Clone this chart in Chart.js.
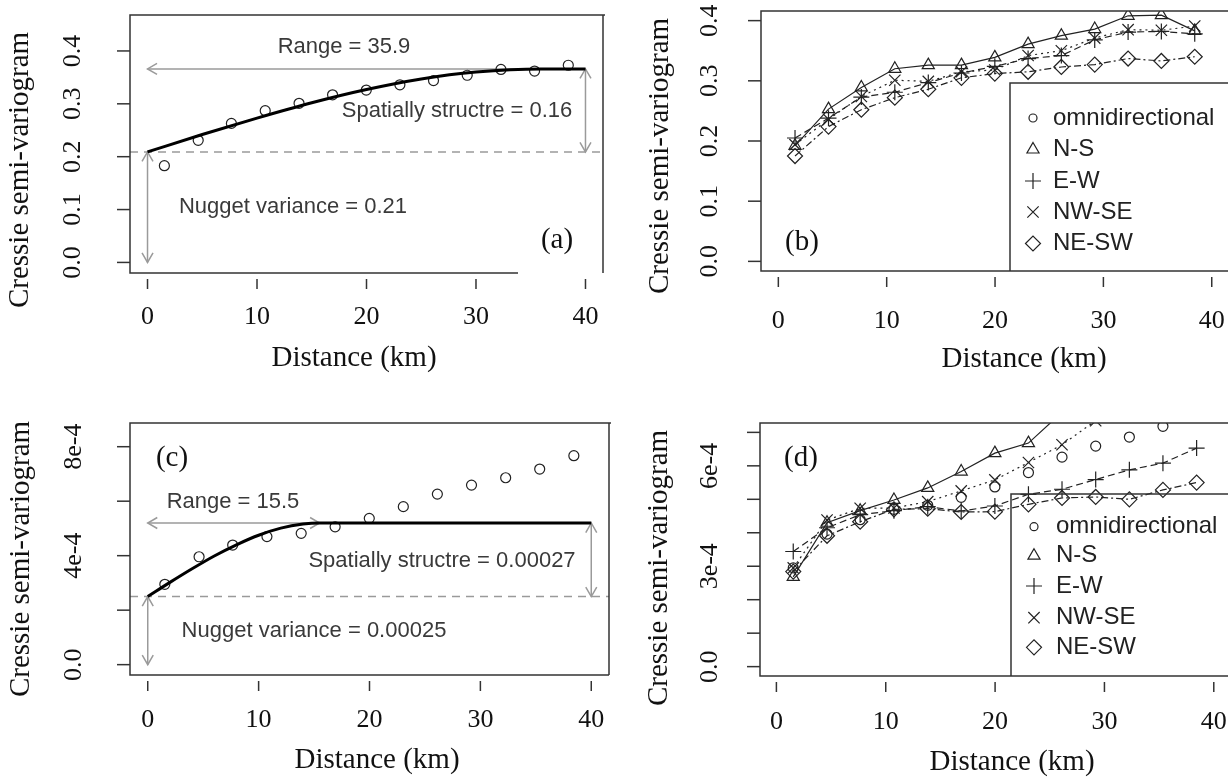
<!DOCTYPE html>
<html><head><meta charset="utf-8">
<script src="https://cdn.jsdelivr.net/npm/chart.js@4.4.1/dist/chart.umd.min.js"></script>
<style>
html,body{margin:0;padding:0;background:#fff}
body{width:1228px;height:777px;overflow:hidden;position:relative}
canvas{position:absolute}
</style></head><body>
<canvas id="ca" width="614" height="390" style="left:0;top:0"></canvas>
<canvas id="cb" width="614" height="390" style="left:614px;top:0"></canvas>
<canvas id="cc" width="614" height="392" style="left:0;top:390px"></canvas>
<canvas id="cd" width="614" height="392" style="left:614px;top:390px"></canvas>
<script>
// ---------------- data ----------------
const LAGS = [1.54, 4.63, 7.66, 10.75, 13.84, 16.90, 19.98, 23.05, 26.12, 29.20, 32.28, 35.35, 38.43];
const X_TICKS = [0, 10, 20, 30, 40];

// (a) omnidirectional, variable 1
const OMNI_1 = [0.183, 0.231, 0.263, 0.287, 0.301, 0.317, 0.326, 0.336, 0.344, 0.354, 0.365, 0.362, 0.373];
const FIT_A_X = [0, 5, 10, 15, 20, 25, 30, 35.9, 40];
const FIT_A_Y = [0.209, 0.242, 0.273, 0.302, 0.327, 0.347, 0.360, 0.366, 0.366];
const A_NUGGET = 0.209, A_SILL = 0.366, A_RANGE = 35.9;

// (b) directional, variable 1
const NS_1   = [0.192, 0.253, 0.289, 0.320, 0.326, 0.326, 0.339, 0.361, 0.375, 0.386, 0.408, 0.409, 0.383];
const EW_1   = [0.205, 0.238, 0.273, 0.281, 0.297, 0.313, 0.324, 0.337, 0.342, 0.368, 0.381, 0.382, 0.378];
const NWSE_1 = [0.194, 0.236, 0.274, 0.301, 0.299, 0.315, 0.318, 0.342, 0.350, 0.371, 0.385, 0.384, 0.391];
const NESW_1 = [0.175, 0.224, 0.252, 0.272, 0.286, 0.305, 0.312, 0.315, 0.323, 0.327, 0.337, 0.333, 0.340];

// (c) omnidirectional, variable 2
const OMNI_2 = [2.95e-4, 3.96e-4, 4.39e-4, 4.70e-4, 4.82e-4, 5.06e-4, 5.37e-4, 5.80e-4, 6.26e-4, 6.59e-4, 6.86e-4, 7.18e-4, 7.67e-4];
const FIT_C_X = [0, 2, 4, 6, 8, 10, 12, 14, 15.5, 40];
const FIT_C_Y = [2.5e-4, 3.02e-4, 3.52e-4, 3.99e-4, 4.40e-4, 4.75e-4, 5.01e-4, 5.16e-4, 5.2e-4, 5.2e-4];
const C_NUGGET = 2.5e-4, C_SILL = 5.2e-4, C_RANGE = 15.5;

// (d) directional, variable 2 (null = outside the plotted range)
const NS_2   = [2.68e-4, 4.30e-4, 4.66e-4, 4.98e-4, 5.34e-4, 5.83e-4, 6.38e-4, 6.68e-4, 7.60e-4, null, null, null, null];
const EW_2   = [3.44e-4, 4.15e-4, 4.54e-4, 4.66e-4, 4.78e-4, 4.65e-4, 4.80e-4, 5.15e-4, 5.30e-4, 5.59e-4, 5.88e-4, 6.08e-4, 6.53e-4];
const NWSE_2 = [2.95e-4, 4.38e-4, 4.73e-4, 4.74e-4, 4.93e-4, 5.25e-4, 5.58e-4, 6.10e-4, 6.63e-4, 7.35e-4, null, null, null];
const NESW_2 = [2.84e-4, 3.91e-4, 4.33e-4, 4.70e-4, 4.72e-4, 4.62e-4, 4.63e-4, 4.85e-4, 5.04e-4, 5.07e-4, 5.00e-4, 5.28e-4, 5.50e-4];

const Y_TICKS_1 = [[0,'0.0'],[0.1,'0.1'],[0.2,'0.2'],[0.3,'0.3'],[0.4,'0.4']];
const Y_TICKS_C = [[0,'0.0'],[2e-4,''],[4e-4,'4e-4'],[6e-4,''],[8e-4,'8e-4']];
const Y_TICKS_D = [[0,'0.0'],[1e-4,''],[2e-4,''],[3e-4,'3e-4'],[4e-4,''],[5e-4,''],[6e-4,'6e-4'],[7e-4,'']];

const LEGEND_NAMES = ['omnidirectional','N-S','E-W','NW-SE','NE-SW'];
const X_TITLE = 'Distance (km)';
const Y_TITLE = 'Cressie semi-variogram';

// ---------------- styles ----------------
const SERIF = "'Liberation Serif','Times New Roman',serif";
const SANS = "'Liberation Sans',Arial,sans-serif";
const INK = '#222';
const GRAY = '#9a9a9a';
const STY = [
  {ps:'circle',   r:5,   dash:null},
  {ps:'triangle', r:7,   dash:[]},
  {ps:'cross',    r:8,   dash:[7,4]},
  {ps:'crossRot', r:8,   dash:[2,4]},
  {ps:'rectRot',  r:7.5, dash:[7,3,2,3]}
];

const pts = (xs, ys) => xs.map((x,i) => ({x:x, y:ys[i]}));

function seriesDS(values, k){
  const s = STY[k];
  return {
    data: pts(LAGS, values),
    showLine: s.dash !== null,
    borderDash: s.dash || [],
    borderColor: INK, borderWidth: 1.2,
    pointStyle: s.ps, pointRadius: s.r, pointBorderWidth: 1.2,
    pointBorderColor: INK, pointBackgroundColor: 'rgba(0,0,0,0)',
    spanGaps: false, tension: 0
  };
}
function fitDS(xs, ys){
  return {data: pts(xs, ys), showLine:true, borderColor:'#000', borderWidth:3,
          pointRadius:0, cubicInterpolationMode:'monotone'};
}

function arrowLine(ctx, x1, y1, x2, y2, headStart, headEnd){
  ctx.beginPath(); ctx.moveTo(x1,y1); ctx.lineTo(x2,y2); ctx.stroke();
  const head = (xa,ya,xb,yb) => {
    const a = Math.atan2(yb-ya, xb-xa), s = Math.PI/6, L = 11;
    ctx.beginPath();
    ctx.moveTo(xb - L*Math.cos(a-s), yb - L*Math.sin(a-s));
    ctx.lineTo(xb, yb);
    ctx.lineTo(xb - L*Math.cos(a+s), yb - L*Math.sin(a+s));
    ctx.stroke();
  };
  if (headStart) head(x2,y2,x1,y1);
  if (headEnd) head(x1,y1,x2,y2);
}

function drawSymbol(ctx, style, r, x, y){
  ctx.save(); ctx.strokeStyle = INK; ctx.lineWidth = 1.2;
  if (Chart.helpers && Chart.helpers.drawPoint) {
    ctx.fillStyle = 'rgba(0,0,0,0)';
    Chart.helpers.drawPoint(ctx, {pointStyle:style, radius:r, rotation:0, borderWidth:1.2}, x, y);
  }
  ctx.restore();
}

function makePanel(id, g){
  const canvas = document.getElementById(id);
  const W = canvas.width, H = canvas.height;
  const plugin = {
    id: 'deco_' + id,
    beforeDatasetsDraw(chart){
      const ctx = chart.ctx, xs = chart.scales.x, ys = chart.scales.y, ca = chart.chartArea;
      ctx.save();
      if (g.ann) {
        const A = g.ann;
        ctx.strokeStyle = GRAY; ctx.lineWidth = 1.5;
        ctx.setLineDash([8,6]);
        const yn = ys.getPixelForValue(A.nugget);
        ctx.beginPath(); ctx.moveTo(ca.left, yn); ctx.lineTo(ca.right, yn); ctx.stroke();
        ctx.setLineDash([]);
        const ysill = ys.getPixelForValue(A.sill);
        const x0 = xs.getPixelForValue(0), x40 = xs.getPixelForValue(40);
        arrowLine(ctx, x0, ysill, xs.getPixelForValue(A.rangeEnd), ysill, true, A.rangeBoth);
        arrowLine(ctx, x40, ysill, x40, yn, true, true);
        arrowLine(ctx, x0, yn, x0, ys.getPixelForValue(0), true, true);
        ctx.fillStyle = '#3a3a3a';
        ctx.font = '22px ' + SANS; ctx.textAlign = 'center'; ctx.textBaseline = 'middle';
        A.texts.forEach(t => ctx.fillText(t[0], t[1], t[2]));
      }
      ctx.restore();
    },
    afterDatasetsDraw(chart){
      const ctx = chart.ctx, xs = chart.scales.x, ys = chart.scales.y, ca = chart.chartArea;
      ctx.save();
      ctx.strokeStyle = '#333'; ctx.lineWidth = 1.5; ctx.setLineDash([]);
      // box
      ctx.beginPath();
      ctx.moveTo(g.boxBottomEnd !== undefined ? g.boxBottomEnd : ca.right, ca.bottom);
      ctx.lineTo(ca.left, ca.bottom); ctx.lineTo(ca.left, ca.top);
      ctx.lineTo(ca.right + 2, ca.top);
      if (!g.openRight) { ctx.moveTo(ca.right, ca.top); ctx.lineTo(ca.right, ca.bottom); }
      ctx.stroke();
      // y ticks + rotated labels
      ctx.fillStyle = '#111'; ctx.font = '26px ' + SERIF;
      ctx.textAlign = 'center'; ctx.textBaseline = 'middle';
      g.yTicks.forEach(t => {
        const py = ys.getPixelForValue(t[0]);
        ctx.beginPath(); ctx.moveTo(ca.left - 13, py); ctx.lineTo(ca.left, py); ctx.stroke();
        if (t[1]) {
          ctx.save(); ctx.translate(g.yLabX, py); ctx.rotate(-Math.PI/2);
          ctx.fillText(t[1], 0, 0); ctx.restore();
        }
      });
      // x tick marks (detached from the box)
      X_TICKS.forEach(v => {
        const px = xs.getPixelForValue(v);
        ctx.beginPath(); ctx.moveTo(px, ca.bottom + 6); ctx.lineTo(px, ca.bottom + 16); ctx.stroke();
      });
      // axis titles
      ctx.font = '29px ' + SERIF;
      ctx.fillText(X_TITLE, g.xTitleX, g.xTitleY);
      ctx.save(); ctx.translate(g.yTitleX, g.yTitleY); ctx.rotate(-Math.PI/2);
      ctx.fillText(Y_TITLE, 0, 0); ctx.restore();
      // panel letter
      ctx.fillText(g.letter[0], g.letter[1], g.letter[2]);
      // legend
      if (g.legend) {
        const L = g.legend;
        ctx.strokeStyle = '#333'; ctx.lineWidth = 1.5;
        ctx.beginPath(); ctx.moveTo(W + 2, L.top); ctx.lineTo(L.left, L.top);
        ctx.lineTo(L.left, ca.bottom); ctx.stroke();
        ctx.font = '24px ' + SANS; ctx.textAlign = 'left'; ctx.fillStyle = '#222';
        LEGEND_NAMES.forEach((name, i) => {
          const y = L.rows[i];
          const s = STY[i];
          drawSymbol(ctx, s.ps, i === 0 ? 4 : s.r, L.symX, y);
          ctx.fillText(name, L.textX, y);
        });
      }
      ctx.restore();
    }
  };
  return new Chart(canvas, {
    type: 'scatter',
    data: {datasets: g.datasets},
    plugins: [plugin],
    options: {
      responsive:false, animation:false, devicePixelRatio:1,
      layout: {autoPadding:false, padding: {left: g.left, top: g.top, right: W - g.right, bottom: 0}},
      plugins: {legend:{display:false}, tooltip:{enabled:false}},
      scales: {
        x: {
          type:'linear', position:'bottom', min:g.xmin, max:g.xmax,
          afterBuildTicks: s => { s.ticks = X_TICKS.map(v => ({value:v})); },
          afterFit: s => { s.height = H - g.bottom; s.paddingLeft = 0; s.paddingRight = 0; },
          grid: {display:false, drawTicks:false, tickLength:0},
          border: {display:false},
          ticks: {font:{family:SERIF, size:26}, color:'#111', padding:g.xLabPad,
                  maxRotation:0, minRotation:0, autoSkip:false, callback: v => String(v)},
          title: {display:false}
        },
        y: {type:'linear', display:false, min:g.ymin, max:g.ymax}
      }
    }
  });
}

makePanel('ca', {
  left:130, right:603, top:15, bottom:273,
  xmin:-1.6, xmax:41.6, ymin:-0.02, ymax:0.468,
  xLabPad:28.8, xTitleX:354, xTitleY:358, yLabX:73, yTitleX:20, yTitleY:170,
  yTicks:Y_TICKS_1, letter:['(a)',557,240], boxBottomEnd:518,
  ann:{nugget:A_NUGGET, sill:A_SILL, rangeEnd:40, rangeBoth:false,
       texts:[['Range = 35.9',344,47],['Spatially structre = 0.16',457,111],['Nugget variance = 0.21',293,207]]},
  datasets:[fitDS(FIT_A_X, FIT_A_Y), seriesDS(OMNI_1, 0)]
});
makePanel('cb', {
  left:147, right:614, top:11, bottom:271, openRight:true,
  xmin:-1.6, xmax:41.5, ymin:-0.016, ymax:0.416,
  xLabPad:34.2, xTitleX:410, xTitleY:359, yLabX:96, yTitleX:46, yTitleY:156,
  yTicks:Y_TICKS_1, letter:['(b)',188,242],
  legend:{left:396, top:83, symX:419, textX:439, rows:[118,149.5,181,212,243.5]},
  datasets:[seriesDS(NS_1,1), seriesDS(EW_1,2), seriesDS(NWSE_1,3), seriesDS(NESW_1,4)]
});
makePanel('cc', {
  left:130, right:609, top:33, bottom:285,
  xmin:-1.6, xmax:41.6, ymin:-0.38e-4, ymax:8.87e-4,
  xLabPad:29.4, xTitleX:377, xTitleY:370, yLabX:74, yTitleX:21, yTitleY:169,
  yTicks:Y_TICKS_C, letter:['(c)',172,68],
  ann:{nugget:C_NUGGET, sill:C_SILL, rangeEnd:C_RANGE, rangeBoth:true,
       texts:[['Range = 15.5',233,112],['Spatially structre = 0.00027',442,171],['Nugget variance = 0.00025',314,241]]},
  datasets:[fitDS(FIT_C_X, FIT_C_Y), seriesDS(OMNI_2, 0)]
});
makePanel('cd', {
  left:146, right:614, top:33, bottom:286, openRight:true,
  xmin:-1.5, xmax:41.3, ymin:-0.28e-4, ymax:7.28e-4,
  xLabPad:30.1, xTitleX:398, xTitleY:372, yLabX:96, yTitleX:45, yTitleY:178,
  yTicks:Y_TICKS_D, letter:['(d)',187,68],
  legend:{left:397, top:104, symX:420, textX:442, rows:[136.7,165.7,196,227.7,257.3]},
  datasets:[seriesDS(OMNI_2,0), seriesDS(NS_2,1), seriesDS(EW_2,2), seriesDS(NWSE_2,3), seriesDS(NESW_2,4)]
});
</script>
</body></html>
